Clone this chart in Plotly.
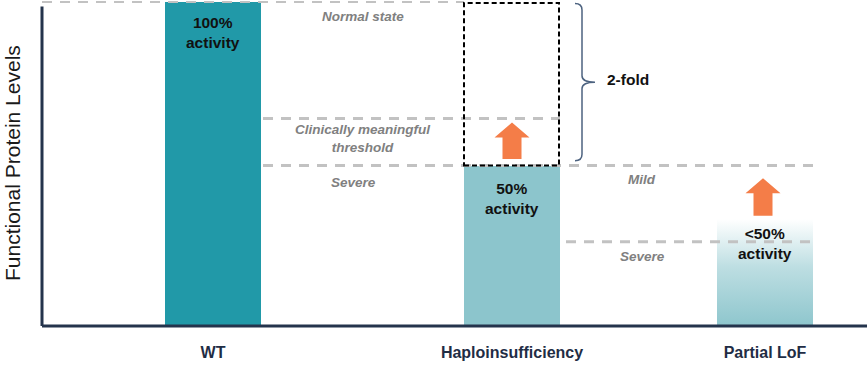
import plotly.graph_objects as go

# ---- data ----
categories = ["WT", "Haploinsufficiency", "Partial LoF"]
x_positions = [171, 470, 723]          # category centres on the x scale
activity = [100, 49.5, 33]             # functional protein level (%)
bar_labels = ["100%<br>activity", "50%<br>activity", "&lt;50%<br>activity"]

normal_level = 100
threshold_level = 64
severe_mild_level = 49.5
partial_severe_level = 26

arrow_x = [470, 721]
arrow_base = [51.5, 34]
arrow_tip = [62.8, 45.6]

fold_label = "2-fold"

# ---- styles ----
BAR_W = 96
WT_COLOR = "#2199a8"
HAPLO_COLOR = "#8cc5cc"
ORANGE = "#f47d48"
GRAY_DASH = "#c2c2c2"
LABEL_GRAY = "#808080"
NAVY = "#24344c"
FONT = "Liberation Sans, Arial, sans-serif"

fig = go.Figure()

# solid bars
fig.add_trace(go.Bar(
    x=x_positions[:2], y=activity[:2], width=BAR_W,
    marker=dict(color=[WT_COLOR, HAPLO_COLOR], line=dict(width=0)),
    hoverinfo="skip", showlegend=False,
))

# gradient bar (Partial LoF)
px = x_positions[2]
fig.add_trace(go.Scatter(
    x=[px - BAR_W / 2, px + BAR_W / 2, px + BAR_W / 2, px - BAR_W / 2, px - BAR_W / 2],
    y=[0, 0, activity[2], activity[2], 0],
    mode="lines", line=dict(width=0), fill="toself",
    fillgradient=dict(type="vertical",
                      colorscale=[[0, "#8ec6cd"], [0.55, "#bddee2"], [1, "#ffffff"]]),
    hoverinfo="skip", showlegend=False,
))

# orange arrows
for ax_, b, t in zip(arrow_x, arrow_base, arrow_tip):
    head_h = 4.6
    sw, hw = 9.5, 17.5
    fig.add_trace(go.Scatter(
        x=[ax_ - sw, ax_ + sw, ax_ + sw, ax_ + hw, ax_, ax_ - hw, ax_ - sw, ax_ - sw],
        y=[b, b, t - head_h, t - head_h, t, t - head_h, t - head_h, b],
        mode="lines", line=dict(width=0), fill="toself", fillcolor=ORANGE,
        hoverinfo="skip", showlegend=False,
    ))

shapes = []
dash_gray = "10px,8px"
def hline(x0, x1, y, width=3):
    shapes.append(dict(type="line", xref="x", yref="y", x0=x0, x1=x1, y0=y, y1=y,
                       line=dict(color=GRAY_DASH, width=width, dash=dash_gray), layer="above"))

wt_r = x_positions[0] + BAR_W / 2
h_l = x_positions[1] - BAR_W / 2
h_r = x_positions[1] + BAR_W / 2
p_r = x_positions[2] + BAR_W / 2

hline(0, h_l, normal_level, 2)
hline(wt_r + 2, h_r, threshold_level)
hline(wt_r + 2, p_r, severe_mild_level)
hline(h_r + 6, p_r, partial_severe_level)

# dashed black box for 2-fold
shapes.append(dict(type="rect", xref="x", yref="y", x0=h_l, x1=h_r - 1,
                   y0=severe_mild_level, y1=normal_level - 0.3,
                   line=dict(color="#000000", width=2, dash="5px,3px"), layer="above"))

# brace
bx0, bxs, bxt = 533, 540, 553
ytop, ybot = normal_level - 0.5, severe_mild_level + 1.5
ymid = (ytop + ybot) / 2
brace = (f"M {bx0},{ytop} Q {bxs},{ytop} {bxs},{ytop-2} L {bxs},{ymid+2} "
         f"Q {bxs},{ymid} {bxt},{ymid} Q {bxs},{ymid} {bxs},{ymid-2} "
         f"L {bxs},{ybot+2} Q {bxs},{ybot} {bx0},{ybot}")
shapes.append(dict(type="path", xref="x", yref="y", path=brace,
                   line=dict(color="#4d6380", width=1.5)))

# axis lines
shapes.append(dict(type="line", xref="paper", yref="paper", x0=0, x1=0, y0=0, y1=0.98,
                   line=dict(color=NAVY, width=3)))
shapes.append(dict(type="line", xref="paper", yref="paper", x0=0, x1=1, y0=0, y1=0,
                   line=dict(color=NAVY, width=3)))

annotations = []
def txt(x, y, s, size=13.5, color=LABEL_GRAY, italic=True, bold=True, **kw):
    t = s
    if bold:
        t = f"<b>{t}</b>"
    if italic:
        t = f"<i>{t}</i>"
    annotations.append(dict(x=x, y=y, xref="x", yref="y", text=t, showarrow=False,
                            font=dict(family=FONT, size=size, color=color), **kw))

mid_left = (wt_r + h_l) / 2
txt(mid_left, 95.5, "Normal state")
txt(mid_left, 57.8, "Clinically meaningful<br>threshold", yanchor="middle")
txt(mid_left - 9, 44.2, "Severe")
txt(600, 45.2, "Mild")
txt(600, 21.5, "Severe")

for xp, val, lab, off in zip(x_positions, activity, bar_labels, [9.5, 10.3, 9.5]):
    txt(xp, val - off, lab, size=15.5, color="#111111", italic=False)
annotations[-1]["y"] = 25.6

txt(563, 76, fold_label, size=15.5, color="#111111", italic=False, xanchor="left")

# y-axis title
annotations.append(dict(x=0, y=0.5, xref="paper", yref="paper", xshift=-30,
                        xanchor="center", yanchor="middle",
                        text="Functional Protein Levels", textangle=-90, showarrow=False,
                        font=dict(family=FONT, size=21, color="#1a1a1a")))

fig.update_layout(
    width=867, height=368,
    margin=dict(l=42, r=0, t=0, b=42),
    plot_bgcolor="white", paper_bgcolor="white",
    bargap=0,
    xaxis=dict(range=[0, 825], showgrid=False, zeroline=False, showline=False,
               tickvals=x_positions, ticktext=[f"<b>{c}</b>" for c in categories],
               tickfont=dict(family=FONT, size=16, color="#1f2d45"),
               ticks="", ticklabelstandoff=15, fixedrange=True),
    yaxis=dict(range=[0, 100.6], showgrid=False, zeroline=False, showline=False,
               showticklabels=False, ticks="", fixedrange=True),
    shapes=shapes, annotations=annotations,
    showlegend=False,
)

fig.write_html("out.html", config={"displayModeBar": False},
               post_script="document.body.style.margin='0px';")
